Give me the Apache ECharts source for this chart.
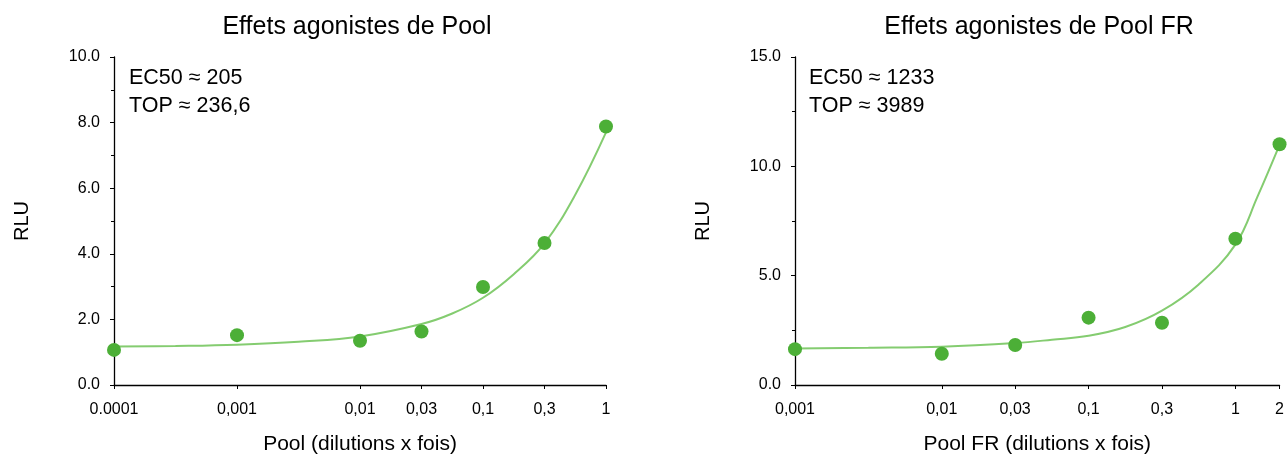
<!DOCTYPE html>
<html>
<head>
<meta charset="utf-8">
<script src="https://cdn.jsdelivr.net/npm/echarts@6/dist/echarts.min.js"></script>
<style>
html,body{margin:0;padding:0;background:#fff;}
#c{width:1287px;height:460px;}
</style>
</head>
<body>
<div id="c"></div>
<script>
// ---- Data (x positions in log10 units of the dilution) ----
const leftTickPos = [-4, -3, -2, -1.5, -1, -0.5, 0];
const leftTickLabels = ['0.0001', '0,001', '0,01', '0,03', '0,1', '0,3', '1'];
const leftPointX = [-4, -3, -2, -1.5, -1, -0.5, 0];
const leftPointY = [1.07, 1.52, 1.35, 1.63, 2.99, 4.33, 7.88];
const leftCurveX = [-4, -3.5, -3, -2.5, -2, -1.5, -1.25, -1, -0.75, -0.5, -0.25, 0];
const leftCurveY = [1.17, 1.19, 1.23, 1.32, 1.48, 1.86, 2.18, 2.66, 3.38, 4.32, 5.8, 7.7];

const rightTickPos = [-3, -2, -1.5, -1, -0.5, 0, 0.301];
const rightTickLabels = ['0,001', '0,01', '0,03', '0,1', '0,3', '1', '2'];
const rightPointX = [-3, -2, -1.5, -1, -0.5, 0, 0.301];
const rightPointY = [1.64, 1.43, 1.83, 3.08, 2.85, 6.69, 11.01];
const rightCurveX = [-3, -2.5, -2, -1.5, -1.25, -1, -0.75, -0.5, -0.25, 0, 0.15, 0.301];
const rightCurveY = [1.67, 1.70, 1.75, 1.92, 2.07, 2.25, 2.65, 3.40, 4.6, 6.42, 8.6, 10.98];

const titles = ['Effets agonistes de Pool', 'Effets agonistes de Pool FR'];
const xNames = ['Pool (dilutions x fois)', 'Pool FR (dilutions x fois)'];
const annotations = [['EC50 \u2248 205', 'TOP \u2248 236,6'], ['EC50 \u2248 1233', 'TOP \u2248 3989']];

// ---- Chart ----
const FONT = '"Liberation Sans", Arial, sans-serif';
const DOT = '#4CAF37';
const LINE = '#84CC70';
const chart = echarts.init(document.getElementById('c'), null, {renderer: 'canvas'});

function xAxis(idx, min, max, pos, labels, name) {
  return {
    type: 'value', gridIndex: idx, min: min, max: max,
    name: name, nameLocation: 'middle', nameGap: 49,
    nameTextStyle: {fontFamily: FONT, fontSize: 21, color: '#000'},
    axisLine: {onZero: false, lineStyle: {color: '#000', width: 1.3}},
    axisTick: {show: true, length: 4, lineStyle: {color: '#000'}, customValues: pos},
    axisLabel: {
      fontFamily: FONT, fontSize: 16, color: '#000', margin: 17,
      customValues: pos,
      formatter: function (v) { const i = pos.findIndex(p => Math.abs(p - v) < 1e-6); return i >= 0 ? labels[i] : ''; }
    },
    splitLine: {show: false}
  };
}
function yAxis(idx, max, interval) {
  return {
    type: 'value', gridIndex: idx, min: 0, max: max, interval: interval,
    name: 'RLU', nameLocation: 'middle', nameGap: 82, nameRotate: 90,
    nameTextStyle: {fontFamily: FONT, fontSize: 20, color: '#000'},
    axisLine: {show: true, onZero: false, lineStyle: {color: '#000', width: 1.3}},
    axisTick: {show: true, length: 4, lineStyle: {color: '#000'}},
    minorTick: {show: true, splitNumber: 2, length: 3, lineStyle: {color: '#000'}},
    axisLabel: {fontFamily: FONT, fontSize: 16, color: '#000', margin: 14, formatter: v => v.toFixed(1)},
    splitLine: {show: false}
  };
}
function zip(a, b) { return a.map((v, i) => [v, b[i]]); }

chart.setOption({
  animation: false,
  backgroundColor: '#fff',
  title: [
    {text: titles[0], left: 352, top: 10, textAlign: 'center', textStyle: {fontFamily: FONT, fontSize: 25, fontWeight: 'normal', color: '#000'}},
    {text: titles[1], left: 1034, top: 10, textAlign: 'center', textStyle: {fontFamily: FONT, fontSize: 25, fontWeight: 'normal', color: '#000'}}
  ],
  grid: [
    {left: 114, right: 681, top: 57, bottom: 70},
    {left: 795, right: 1, top: 57, bottom: 70}
  ],
  xAxis: [
    xAxis(0, -4, 0, leftTickPos, leftTickLabels, xNames[0]),
    xAxis(1, -3, 0.301, rightTickPos, rightTickLabels, xNames[1])
  ],
  yAxis: [yAxis(0, 10, 2), yAxis(1, 15, 5)],
  graphic: [
    {type: 'text', left: 129, top: 67, style: {text: annotations[0][0], font: '21.5px ' + FONT, fill: '#000'}},
    {type: 'text', left: 129, top: 95, style: {text: annotations[0][1], font: '21.5px ' + FONT, fill: '#000'}},
    {type: 'text', left: 809, top: 67, style: {text: annotations[1][0], font: '21.5px ' + FONT, fill: '#000'}},
    {type: 'text', left: 809, top: 95, style: {text: annotations[1][1], font: '21.5px ' + FONT, fill: '#000'}}
  ],
  series: [
    {type: 'line', xAxisIndex: 0, yAxisIndex: 0, data: zip(leftCurveX, leftCurveY), smooth: 0.4, showSymbol: false, symbol: 'none', lineStyle: {color: LINE, width: 2}, z: 2},
    {type: 'scatter', xAxisIndex: 0, yAxisIndex: 0, data: zip(leftPointX, leftPointY), symbolSize: 14, itemStyle: {color: DOT, opacity: 1}, z: 3},
    {type: 'line', xAxisIndex: 1, yAxisIndex: 1, data: zip(rightCurveX, rightCurveY), smooth: 0.4, showSymbol: false, symbol: 'none', lineStyle: {color: LINE, width: 2}, z: 2},
    {type: 'scatter', xAxisIndex: 1, yAxisIndex: 1, data: zip(rightPointX, rightPointY), symbolSize: 14, itemStyle: {color: DOT, opacity: 1}, z: 3}
  ]
});
</script>
</body>
</html>
